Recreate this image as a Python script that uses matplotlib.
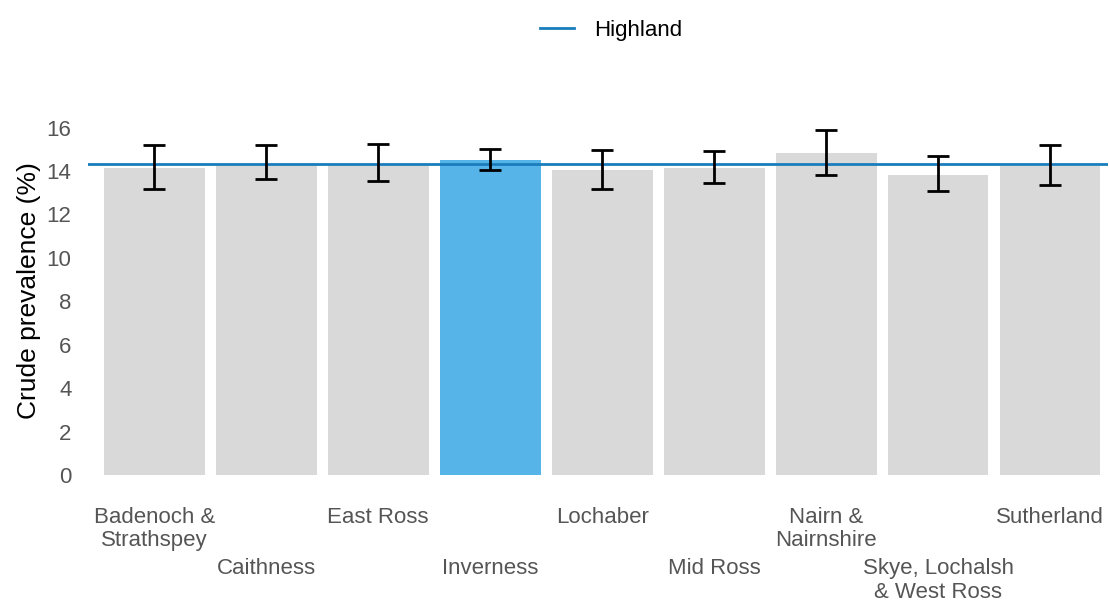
import matplotlib.pyplot as plt
import numpy as np

plt.rcParams['font.family'] = ['Liberation Sans', 'DejaVu Sans']

# data
areas = ['Badenoch &\nStrathspey', 'Caithness', 'East Ross', 'Inverness', 'Lochaber',
         'Mid Ross', 'Nairn &\nNairnshire', 'Skye, Lochalsh\n& West Ross', 'Sutherland']
prevalence = [14.13, 14.30, 14.30, 14.50, 14.04, 14.16, 14.84, 13.84, 14.24]
ci_low = [13.17, 13.64, 13.55, 14.06, 13.18, 13.46, 13.84, 13.09, 13.36]
ci_high = [15.22, 15.19, 15.27, 15.01, 14.99, 14.92, 15.90, 14.69, 15.21]
highland = 14.33
highlight = 'Inverness'

x = np.arange(len(areas))
colors = ['#56b4e9' if a == highlight else '#d9d9d9' for a in areas]
err = [np.array(prevalence) - np.array(ci_low), np.array(ci_high) - np.array(prevalence)]

fig = plt.figure(figsize=(11.09, 6.02), dpi=100)
ax = fig.add_axes([0.0794, 0.211, 0.92, 0.613])

ax.bar(x, prevalence, width=0.9, color=colors, zorder=1)
ax.errorbar(x, prevalence, yerr=err, fmt='none', ecolor='black',
            elinewidth=2, capsize=8, capthick=2, zorder=3)
ax.axhline(highland, color='#1a7dbb', linewidth=2, zorder=2, label='Highland')

ax.set_xlim(-0.59, 8.52)
ax.set_ylim(0, 17)
ax.set_yticks(range(0, 17, 2))
ax.set_xticks(x)
ax.set_xticklabels(areas, fontsize=16, color='#555555', linespacing=1.15)
for i, tick in enumerate(ax.xaxis.get_major_ticks()):
    tick.set_pad(23 if i % 2 == 0 else 60)
ax.tick_params(axis='both', length=0)
ax.tick_params(axis='y', labelsize=16, labelcolor='#555555', pad=12)
for s in ax.spines.values():
    s.set_visible(False)

ax.set_ylabel('Crude prevalence (%)', fontsize=19, labelpad=4)

fig.legend(loc='upper center', bbox_to_anchor=(0.551, 1.0), frameon=False,
           fontsize=16, handlelength=1.55, handletextpad=0.9)

fig.savefig('out.png', dpi=100)
